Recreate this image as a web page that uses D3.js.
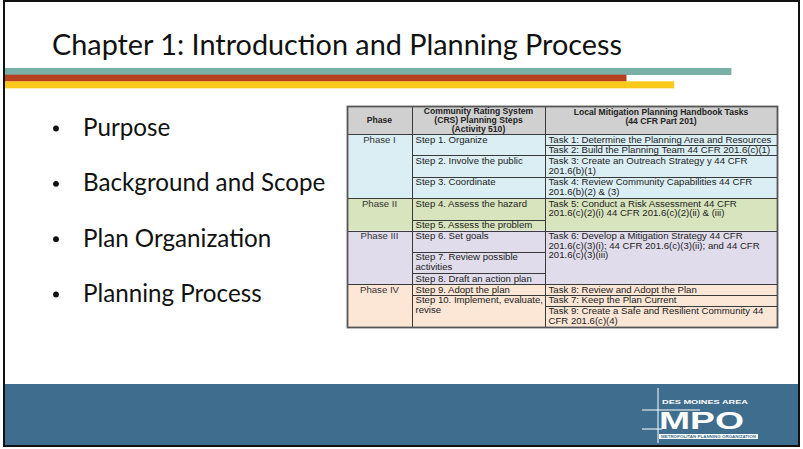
<!DOCTYPE html>
<html><head><meta charset="utf-8">
<script src="https://cdn.jsdelivr.net/npm/d3@7"></script>
<style>body{margin:0;background:#fff}svg{display:block}</style>
</head><body><svg id="c" width="803" height="449"></svg>
<script>
// ---------- data ----------
const title = "Chapter 1: Introduction and Planning Process";
const bullets = ["Purpose", "Background and Scope", "Plan Organization", "Planning Process"];
const headers = [
  ["Phase"],
  ["Community Rating System", "(CRS) Planning Steps", "(Activity 510)"],
  ["Local Mitigation Planning Handbook Tasks", "(44 CFR Part 201)"]
];
const phases = [
  {name: "Phase I",   from: 0,  to: 6},
  {name: "Phase II",  from: 6,  to: 9},
  {name: "Phase III", from: 9,  to: 14},
  {name: "Phase IV",  from: 14, to: 18}
];
const phaseColors = ["#DBEEF4", "#D8E4BD", "#E0DCEC", "#FCE6D5"];
const steps = [
  {lines: ["Step 1. Organize"], from: 0, to: 2},
  {lines: ["Step 2. Involve the public"], from: 2, to: 4},
  {lines: ["Step 3. Coordinate"], from: 4, to: 6},
  {lines: ["Step 4. Assess the hazard"], from: 6, to: 8},
  {lines: ["Step 5. Assess the problem"], from: 8, to: 9},
  {lines: ["Step 6. Set goals"], from: 9, to: 11},
  {lines: ["Step 7. Review possible", "activities"], from: 11, to: 13},
  {lines: ["Step 8. Draft an action plan"], from: 13, to: 14},
  {lines: ["Step 9. Adopt the plan"], from: 14, to: 15},
  {lines: ["Step 10. Implement, evaluate,", "revise"], from: 15, to: 18}
];
const tasks = [
  {lines: ["Task 1: Determine the Planning Area and Resources"], from: 0, to: 1},
  {lines: ["Task 2: Build the Planning Team 44 CFR 201.6(c)(1)"], from: 1, to: 2},
  {lines: ["Task 3: Create an Outreach Strategy y 44 CFR", "201.6(b)(1)"], from: 2, to: 4},
  {lines: ["Task 4: Review Community Capabilities 44 CFR", "201.6(b)(2) & (3)"], from: 4, to: 6},
  {lines: ["Task 5: Conduct a Risk Assessment 44 CFR", "201.6(c)(2)(i) 44 CFR 201.6(c)(2)(ii) & (iii)"], from: 6, to: 9},
  {lines: ["Task 6: Develop a Mitigation Strategy 44 CFR", "201.6(c)(3)(i); 44 CFR 201.6(c)(3)(ii); and 44 CFR", "201.6(c)(3)(iii)"], from: 9, to: 14},
  {lines: ["Task 8: Review and Adopt the Plan"], from: 14, to: 15},
  {lines: ["Task 7: Keep the Plan Current"], from: 15, to: 16},
  {lines: ["Task 9: Create a Safe and Resilient Community 44", "CFR 201.6(c)(4)"], from: 16, to: 18}
];
const stripes = [
  {color: "#79AFA4", len: 0.915},
  {color: "#B5401F", len: 0.783},
  {color: "#FBC81C", len: 0.843}
];
const logoTop = "DES MOINES AREA";
const logoMain = "MPO";
const logoSub = "METROPOLITAN PLANNING ORGANIZATION";

// ---------- layout ----------
const W = 803, H = 449;
const svg = d3.select("#c");

svg.append("rect").attr("x", 0).attr("y", 0).attr("width", W).attr("height", H).attr("fill", "#fff");

// footer band
svg.append("rect").attr("x", 4).attr("y", 384).attr("width", 795).attr("height", 62).attr("fill", "#3F6D8D");

// title
svg.append("text").attr("x", 52).attr("y", 55)
  .attr("font-family", "Lato, 'Open Sans', sans-serif").attr("font-size", 28)
  .attr("fill", "#111")
  .attr("textLength", 570).attr("lengthAdjust", "spacingAndGlyphs")
  .text(title);

// stripes
const sx = d3.scaleLinear().domain([0, 1]).range([4, 799]);
const sy = d3.scaleBand().domain(d3.range(stripes.length)).range([68, 88]);
svg.selectAll("rect.stripe").data(stripes).join("rect").attr("class", "stripe")
  .attr("x", sx(0)).attr("y", (d, i) => sy(i))
  .attr("width", d => sx(d.len) - sx(0)).attr("height", sy.bandwidth() + 0.3)
  .attr("fill", d => d.color);

// bullets
const by = d3.scalePoint().domain(bullets).range([136, 302]);
const bg = svg.append("g");
bg.selectAll("circle").data(bullets).join("circle")
  .attr("cx", 56).attr("cy", d => by(d) - 7.5).attr("r", 2.9).attr("fill", "#111");
bg.selectAll("text").data(bullets).join("text")
  .attr("x", 83).attr("y", d => by(d))
  .attr("font-family", "Lato, 'Open Sans', sans-serif").attr("font-size", 24.2)
  .attr("fill", "#111").text(d => d);

// table
const colX = [347, 412, 545, 777];
const headTop = 106, headBottom = 134;
const ry = d3.scaleLinear().domain([0, 18]).range([headBottom, 327]);
const tg = svg.append("g").attr("font-family", "'Liberation Sans', Arial, sans-serif").attr("font-size", 9.6);

tg.append("rect").attr("x", colX[0]).attr("y", headTop).attr("width", colX[3] - colX[0])
  .attr("height", headBottom - headTop).attr("fill", "#D0D0D0");
tg.selectAll("rect.pbg").data(phases).join("rect").attr("class", "pbg")
  .attr("x", colX[0]).attr("y", d => ry(d.from)).attr("width", colX[3] - colX[0])
  .attr("height", d => ry(d.to) - ry(d.from)).attr("fill", (d, i) => phaseColors[i]);

const lineColor = "#3a3a3a";
function cells(data, c0, c1, cls) {
  tg.selectAll("rect." + cls).data(data).join("rect").attr("class", cls)
    .attr("x", colX[c0] + 0.5).attr("y", d => Math.round(ry(d.from)) + 0.5)
    .attr("width", colX[c1] - colX[c0]).attr("height", d => Math.round(ry(d.to)) - Math.round(ry(d.from)))
    .attr("fill", "none").attr("stroke", lineColor).attr("stroke-width", 1);
}
cells(phases, 0, 1, "pc");
cells(steps, 1, 2, "sc");
cells(tasks, 2, 3, "tc");
tg.selectAll("rect.hc").data(headers).join("rect").attr("class", "hc")
  .attr("x", (d, i) => colX[i] + 0.5).attr("y", headTop + 0.5)
  .attr("width", (d, i) => colX[i + 1] - colX[i]).attr("height", headBottom - headTop)
  .attr("fill", "none").attr("stroke", lineColor);
tg.append("rect").attr("x", colX[0] + 0.5).attr("y", headTop + 0.5)
  .attr("width", colX[3] - colX[0]).attr("height", ry(18) - headTop)
  .attr("fill", "none").attr("stroke", "#555").attr("stroke-width", 1.8);

// header text
headers.forEach((lines, i) => {
  const cx = (colX[i] + colX[i + 1]) / 2;
  const n = lines.length;
  const mid = (headTop + headBottom) / 2 + 3;
  tg.append("text").attr("x", cx).attr("text-anchor", "middle").attr("font-weight", "bold")
    .attr("font-size", 8.6).attr("fill", "#222")
    .selectAll("tspan").data(lines).join("tspan")
    .attr("x", cx).attr("y", (d, j) => (n === 3 ? mid - 9 + j * 9 : (n === 2 ? headTop + 9 + j * 9 : mid)))
    .text(d => d);
});

// phase text
tg.selectAll("text.pt").data(phases).join("text").attr("class", "pt")
  .attr("x", (colX[0] + colX[1]) / 2).attr("y", d => ry(d.from) + 8.5)
  .attr("text-anchor", "middle").attr("fill", "#333").text(d => d.name);

function cellText(data, c, cls) {
  tg.selectAll("text." + cls).data(data).join("text").attr("class", cls)
    .attr("fill", "#222")
    .each(function(d) {
      d3.select(this).selectAll("tspan").data(d.lines).join("tspan")
        .attr("x", colX[c] + 3.5).attr("y", (l, j) => ry(d.from) + 8.5 + j * 9.6)
        .text(l => l);
    });
}
cellText(steps, 1, "st");
cellText(tasks, 2, "tt");

// logo
const lg = svg.append("g").attr("fill", "#fff").attr("font-family", "'Liberation Sans', Arial, sans-serif").attr("font-weight", "bold");
lg.append("line").attr("x1", 658).attr("x2", 658).attr("y1", 388).attr("y2", 443).attr("stroke", "#fff").attr("stroke-width", 1);
lg.append("line").attr("x1", 642).attr("x2", 700).attr("y1", 410).attr("y2", 410).attr("stroke", "#fff").attr("stroke-width", 1);
lg.append("line").attr("x1", 642).attr("x2", 662).attr("y1", 429).attr("y2", 429).attr("stroke", "#fff").attr("stroke-width", 1);
lg.append("text").attr("x", 662).attr("y", 404).attr("font-size", 6)
  .attr("textLength", 86).attr("lengthAdjust", "spacingAndGlyphs").text(logoTop);
lg.append("text").attr("x", 659).attr("y", 429).attr("font-size", 24)
  .attr("textLength", 85).attr("lengthAdjust", "spacingAndGlyphs").text(logoMain);
lg.append("rect").attr("x", 659).attr("y", 434).attr("width", 99).attr("height", 5).attr("fill", "#fff");
lg.append("text").attr("x", 661).attr("y", 438.2).attr("font-size", 4.4).attr("fill", "#3F6D8D")
  .attr("textLength", 95).attr("lengthAdjust", "spacingAndGlyphs").text(logoSub);

// slide frame
svg.append("rect").attr("x", 4).attr("y", 1).attr("width", 795).attr("height", 445)
  .attr("fill", "none").attr("stroke", "#111").attr("stroke-width", 2);
</script>
</body></html>
